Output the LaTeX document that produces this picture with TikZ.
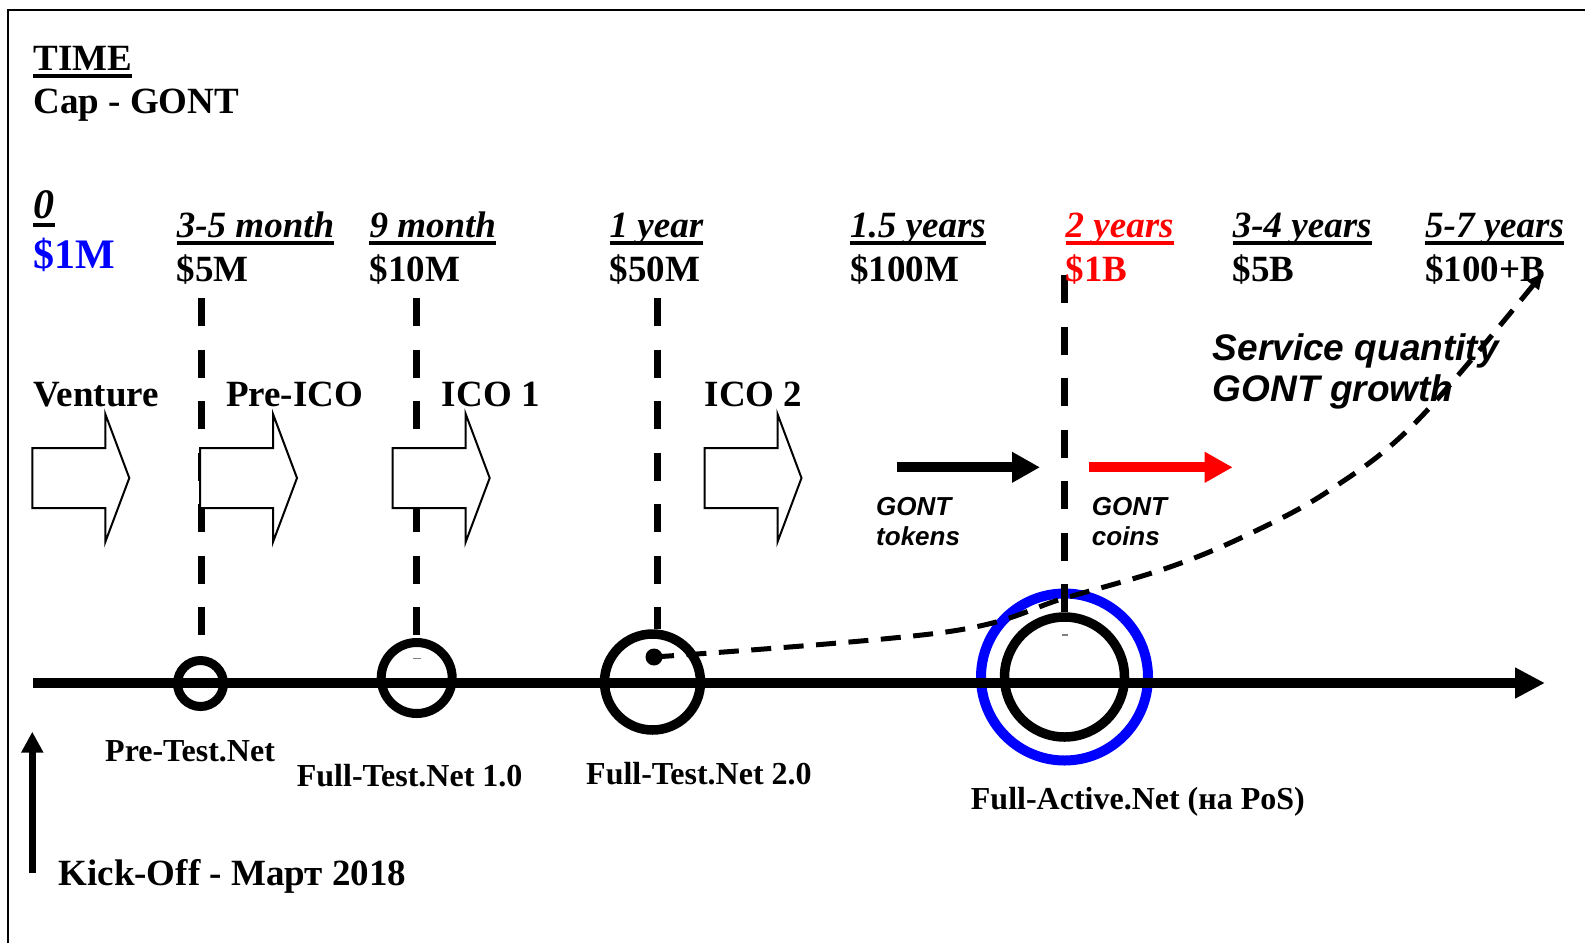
\documentclass[tikz,border=0pt]{standalone}
\usepackage{fontspec}
\setmainfont{Liberation Serif}
\newfontfamily\arialf{Liberation Sans}
\usetikzlibrary{arrows.meta}
\definecolor{rd}{RGB}{255,0,0}
\definecolor{bl}{RGB}{0,0,255}
\begin{document}
\begin{tikzpicture}[x=1pt,y=-1pt,
  tb/.style={anchor=base west, inner sep=0pt, font=\bfseries\fontsize{37}{40}\selectfont},
  tbi/.style={tb, font=\bfseries\itshape\fontsize{37}{40}\selectfont},
  bigb/.style={tb, font=\bfseries\fontsize{42}{46}\selectfont},
  bigi/.style={tb, font=\bfseries\itshape\fontsize{42}{46}\selectfont},
  lab/.style={tb, font=\bfseries\fontsize{32}{36}\selectfont},
  kick/.style={tb, font=\bfseries\fontsize{37}{40}\selectfont},
  ari/.style={tb, font=\arialf\bfseries\itshape\fontsize{37}{40}\selectfont},
  aris/.style={tb, font=\arialf\bfseries\itshape\fontsize{26}{30}\selectfont},
  uline/.style={line width=3.5pt},
  ring/.style={draw, circle, inner sep=0pt},
  vd/.style={line width=7pt, dash pattern=on 28pt off 23.5pt},
  barrow/.pic={\draw[line width=2pt, fill=white, line join=miter]
     (0,-30) -- (73,-30) -- (73,-64) -- (97,0) -- (73,64) -- (73,30) -- (0,30) -- cycle;}
]
\useasboundingbox (0,0) rectangle (1585,943);
% frame
\draw[line width=2pt] (8,943) -- (8,10) -- (1585,10);

% circles
\node[ring, draw=bl, line width=10pt, minimum size=167pt] (ca) at (1064.5,677) {};
\node[ring, line width=9.5pt, minimum size=120pt] (c4) at (1064.5,677) {};
\node[ring, line width=9pt, minimum size=46pt] (c1) at (200.5,683.5) {};
\node[ring, line width=9pt, minimum size=71pt] (c2) at (416.7,678) {};
\node[ring, line width=9.5pt, minimum size=96pt] (c3) at (652.5,682) {};

% tiny marks
\draw[gray, line width=1.2pt] (413.3,658.7) -- (420.7,658.7);
\draw[gray, line width=1.2pt] (1061.7,635) -- (1068.3,635);

% dashed verticals
\coordinate (v1t) at (201,298);
\coordinate (v1b) at (201,636);
\coordinate (v2t) at (416.7,298);
\coordinate (v3t) at (657,298);
\coordinate (v4t) at (1064.5,275);
\draw[vd] (v1t) -- (v1b);
\draw[vd] (v2t) -- (v2t |- c2.north);
\draw[vd] (v3t) -- (v3t |- c3.north);
\draw[vd] (v4t) -- (v4t |- c4.north);

% block arrows
\pic at (32.3,478) {barrow};
\pic at (200,478) {barrow};
\pic at (392.7,478) {barrow};
\pic at (704.5,478) {barrow};

% axis
\coordinate (ax0) at (33,683);
\coordinate (ax1) at (1545,683);
\draw[line width=9.5pt, -{Triangle[length=30pt,width=29pt]}] (ax0) -- (ax1);

% kick-off arrow
\coordinate (k0) at (32.3,873);
\coordinate (k1) at (32.3,731.7);
\draw[line width=7pt, -{Triangle[length=21pt,width=21pt]}] (k0) -- (k1);

% token / coin arrows
\coordinate (gt0) at (896.7,467.3);
\coordinate (gt1) at (1040,467.3);
\coordinate (gc0) at (1089,467.3);
\coordinate (gc1) at (1232.7,467.3);
\draw[line width=10pt, -{Triangle[length=28pt,width=29pt]}] (gt0) -- (gt1);
\draw[rd, line width=10pt, -{Triangle[length=28pt,width=29pt]}] (gc0) -- (gc1);

% growth curve
\node[circle, fill, inner sep=0pt, minimum size=17pt] (dot) at (654,657) {};
\coordinate (cend) at (1543,273);
\draw[line width=5pt, dash pattern=on 20pt off 12.5pt, -{Triangle[length=16pt,width=14pt]}]
  plot[smooth, tension=0.6] coordinates {(dot.center) (946,632) (1065,598) (1167,568) (1247,535) (1330,490) (1418,420) (cend)};

% header texts
\node[tb] (time) at (33.3,70) {TIME};
\draw[uline] ([yshift=-6pt]time.base west) -- ([yshift=-6pt]time.base east);
\node[tb] (cap) at (33.3,113) {Cap - GONT};

\node[bigi] (t0) at (33.3,218) {0};
\draw[uline] ([yshift=-7pt]t0.base west) -- ([yshift=-7pt]t0.base east);
\node[bigb, text=bl] (m0) at (33.3,268) {\$1M};

\node[tbi] (t1) at (176.7,237) {3-5 month};
\draw[uline] ([yshift=-6pt]t1.base west) -- ([yshift=-6pt]t1.base east);
\node[tb] (m1) at (176.7,281.7) {\$5M};

\node[tbi] (t2) at (369.3,237) {9 month};
\draw[uline] ([yshift=-6pt]t2.base west) -- ([yshift=-6pt]t2.base east);
\node[tb] (m2) at (369.3,281.7) {\$10M};

\node[tbi] (t3) at (609.5,237) {1 year};
\draw[uline] ([yshift=-6pt]t3.base west) -- ([yshift=-6pt]t3.base east);
\node[tb] (m3) at (609.5,281.7) {\$50M};

\node[tbi] (t4) at (850,237) {1.5 years};
\draw[uline] ([yshift=-6pt]t4.base west) -- ([yshift=-6pt]t4.base east);
\node[tb] (m4) at (850,281.7) {\$100M};

\node[tbi, text=rd] (t5) at (1065.5,237) {2 years};
\draw[uline, rd] ([yshift=-6pt]t5.base west) -- ([yshift=-6pt]t5.base east);
\node[tb, text=rd] (m5) at (1065.5,281.7) {\$1B};

\node[tbi] (t6) at (1232.7,237) {3-4 years};
\draw[uline] ([yshift=-6pt]t6.base west) -- ([yshift=-6pt]t6.base east);
\node[tb] (m6) at (1232.7,281.7) {\$5B};

\node[tbi] (t7) at (1425,237) {5-7 years};
\draw[uline] ([yshift=-6pt]t7.base west) -- ([yshift=-6pt]t7.base east);
\node[tb] (m7) at (1425,281.7) {\$100+B};

% phase labels
\node[tb] (p1) at (33.3,406.7) {Venture};
\node[tb] (p2) at (226,406.7) {Pre-ICO};
\node[tb] (p3) at (441.7,406.7) {ICO 1};
\node[tb] (p4) at (704.5,406.7) {ICO 2};

% service text
\node[ari] (s1) at (1212.7,360) {Service quantity};
\node[ari] (s2) at (1212.7,401.7) {GONT growth};

% token labels
\node[aris] (g1) at (876,515) {GONT};
\node[aris] (g2) at (876,545) {tokens};
\node[aris] (g3) at (1091.7,515) {GONT};
\node[aris] (g4) at (1091.7,545) {coins};

% milestone labels
\node[lab] (l1) at (105,761.7) {Pre-Test.Net};
\node[lab] (l2) at (296.7,786) {Full-Test.Net 1.0};
\node[lab] (l3) at (586,784) {Full-Test.Net 2.0};
\node[lab] (l4) at (970.7,809) {Full-Active.Net (на PoS)};
\node[kick] (ko) at (58.3,885) {Kick-Off - Март 2018};
\end{tikzpicture}
\end{document}
